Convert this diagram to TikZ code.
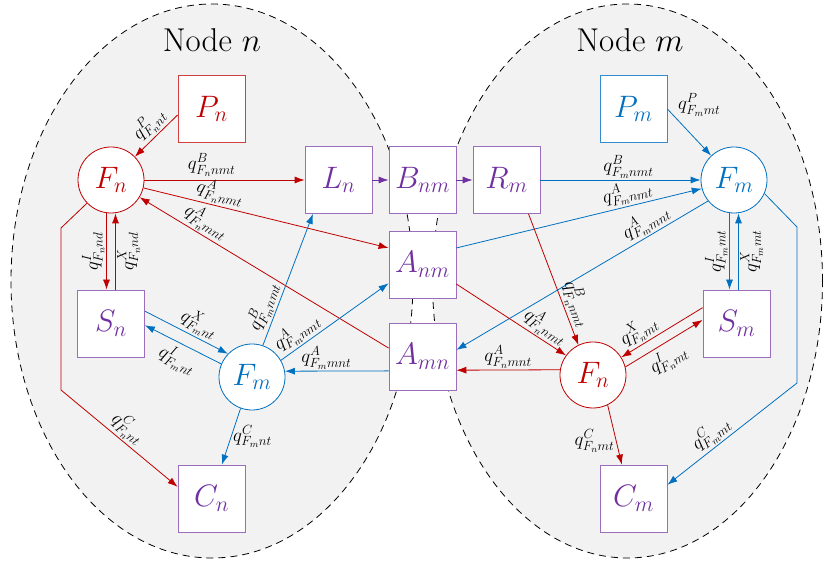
\RequirePackage{fix-cm}
\documentclass[tikz,border=0pt]{standalone}
\usetikzlibrary{arrows.meta}

\definecolor{fred}{RGB}{192,0,0}
\definecolor{fblue}{RGB}{0,112,192}
\definecolor{fpurple}{RGB}{112,48,160}
\definecolor{zone}{RGB}{242,242,242}

\begin{document}
\begin{tikzpicture}[x=1pt, y=1pt,
  box/.style={draw=fpurple!70, fill=white, line width=0.8pt, minimum size=67pt,
    inner sep=0pt, text=fpurple, font=\fontsize{31}{33}\selectfont},
  firm/.style={circle, draw, fill=white, line width=0.8pt, minimum size=66pt,
    inner sep=0pt, font=\fontsize{31}{33}\selectfont},
  flow/.style={line width=0.8pt, -{Latex[length=10pt,width=7pt]}},
  lab/.style={text=black, font=\fontsize{19}{21}\selectfont, inner sep=1.5pt},
  title/.style={font=\fontsize{33}{35}\selectfont}]

\useasboundingbox (0,0) rectangle (823,565);

% the two nodes of the network, as dashed zones
\path[draw, fill=zone, line width=0.8pt, dash pattern=on 7pt off 5pt]
  (212,284) ellipse [x radius=201, y radius=277];
\path[draw, fill=zone, line width=0.8pt, dash pattern=on 7pt off 5pt]
  (627.5,284) ellipse [x radius=195, y radius=277];
\node[title] (tn) at (212,525) {Node $n$};
\node[title] (tm) at (630,525) {Node $m$};

% purple boxes: line, buffers, arbitrage, storage, consumers
\foreach \nm/\px/\py/\tx in {Ln/338.5/385/L_n, Bnm/422.5/385/B_{nm}, Rm/506.5/385/R_m,
    Anm/422.5/300.5/A_{nm}, Amn/422.5/208.5/A_{mn}, Sn/111/241.5/S_n,
    Sm/736.5/241.5/S_m, Cn/211.5/66.5/C_n, Cm/633.5/66.5/C_m}
  \node[box] (\nm) at (\px,\py) {$\tx$};

% producers
\node[box, draw=fred!75, text=fred] (Pn) at (211.5,456) {$P_n$};
\node[box, draw=fblue!80, text=fblue] (Pm) at (633.5,456) {$P_m$};

% firms (Fmn: firm m in node n, Fnm: firm n in node m)
\node[firm, draw=fred, text=fred] (Fn) at (111,385) {$F_n$};
\node[firm, draw=fblue, text=fblue] (Fm) at (734,385) {$F_m$};
\node[firm, draw=fblue, text=fblue] (Fmn) at (252,188) {$F_m$};
\node[firm, draw=fred, text=fred] (Fnm) at (593,190) {$F_n$};

% line through the buffer
\draw[flow, fpurple] (Ln) -- (Bnm);
\draw[flow, fpurple] (Bnm) -- (Rm);

% firm n, own node
\draw[flow, fred] (Pn.190) -- node[lab, sloped, above, pos=0.45] {$q^{P}_{F_n nt}$} (Fn);
\draw[flow, fred] (Fn) -- node[lab, above=2pt, pos=0.42] {$q^{B}_{F_n nmt}$} (Ln);
\draw[flow, fred] (Fn) -- node[lab, sloped, above, pos=0.3] {$q^{A}_{F_n nmt}$} (Anm.154);
\draw[flow, fred] (Amn.166) -- node[lab, sloped, above, pos=0.76] {$q^{A}_{F_n mnt}$} (Fn);
\draw[flow, fred] ([xshift=-4.5pt]Fn.south) -- node[lab, rotate=90, anchor=south] {$q^{I}_{F_n nd}$}
  ([xshift=-4.5pt]Fn.south |- Sn.north);
\draw[flow, fred] ([xshift=4.5pt]Fn.south |- Sn.north) -- node[lab, rotate=90, anchor=north] {$q^{X}_{F_n nd}$}
  ([xshift=4.5pt]Fn.south);
\draw[flow, fred] (Fn.224) -- (61,337) -- (61,175)
  -- node[lab, sloped, above, pos=0.5] {$q^{C}_{F_n nt}$} (Cn.161);

% firm m, in node n
\draw[flow, fblue] (Sn.20) -- node[lab, sloped, above, pos=0.58] {$q^{X}_{F_m nt}$} (Fmn.136);
\draw[flow, fblue] (Fmn.157) -- node[lab, sloped, below=3pt, pos=0.48] {$q^{I}_{F_m nt}$} (Sn.-3);
\draw[flow, fblue] (Fmn.71) -- node[lab, sloped, above, pos=0.26] {$q^{B}_{F_m nmt}$} (Ln.233);
\draw[flow, fblue] (Fmn.30) -- node[lab, sloped, above, pos=0.22] {$q^{A}_{F_m nmt}$} (Anm.209);
\draw[flow, fblue] (Amn.203) -- node[lab, above, pos=0.6] {$q^{A}_{F_m mnt}$} (Fmn.10);
\draw[flow, fblue] (Fmn.250) -- node[lab, right, pos=0.5] {$q^{C}_{F_m nt}$} (Cn.73);

% firm m, own node
\draw[flow, fblue] (Pm.east) -- node[lab, anchor=south west, pos=0.2] {$q^{P}_{F_m mt}$} (Fm);
\draw[flow, fblue] (Rm) -- node[lab, above, pos=0.55] {$q^{B}_{F_m nmt}$} (Fm);
\draw[flow, fblue] (Anm.26) -- node[lab, sloped, above, pos=0.71] {$q^{A}_{F_m nmt}$} (Fm.195);
\draw[flow, fblue] (Fm.219) -- node[lab, sloped, above, pos=0.22] {$q^{A}_{F_m mnt}$} (Amn.11);
\draw[flow, fblue] ([xshift=-4.5pt]Fm.south) -- node[lab, rotate=90, anchor=south] {$q^{I}_{F_m mt}$}
  ([xshift=-4.5pt]Fm.south |- Sm.north);
\draw[flow, fblue] ([xshift=4.5pt]Fm.south |- Sm.north) -- node[lab, rotate=90, anchor=north] {$q^{X}_{F_m mt}$}
  ([xshift=4.5pt]Fm.south);
\draw[flow, fblue] (Fm.-24) -- (797,338) -- (797,182)
  -- node[lab, sloped, above, pos=0.6] {$q^{C}_{F_m mt}$} (Cm.22);

% firm n, in node m
\draw[flow, fred] (Rm.303) -- node[lab, sloped, above, pos=0.72] {$q^{B}_{F_n nmt}$} (Fnm.116);
\draw[flow, fred] (Anm.-30) -- node[lab, sloped, above, pos=0.75] {$q^{A}_{F_n nmt}$} (Fnm.144);
\draw[flow, fred] (Fnm.171) -- node[lab, above] {$q^{A}_{F_n mnt}$} (Amn.-22);
\draw[flow, fred] (Sm.155) -- node[lab, sloped, above, pos=0.7] {$q^{X}_{F_n mt}$} (Fnm.32);
\draw[flow, fred] (Fnm.14) -- node[lab, sloped, below=3pt, pos=0.45] {$q^{I}_{F_n mt}$} (Sm.174);
\draw[flow, fred] (Fnm.-64) -- node[lab, left, pos=0.6] {$q^{C}_{F_n mt}$} (Cm.109);

\end{tikzpicture}
\end{document}
